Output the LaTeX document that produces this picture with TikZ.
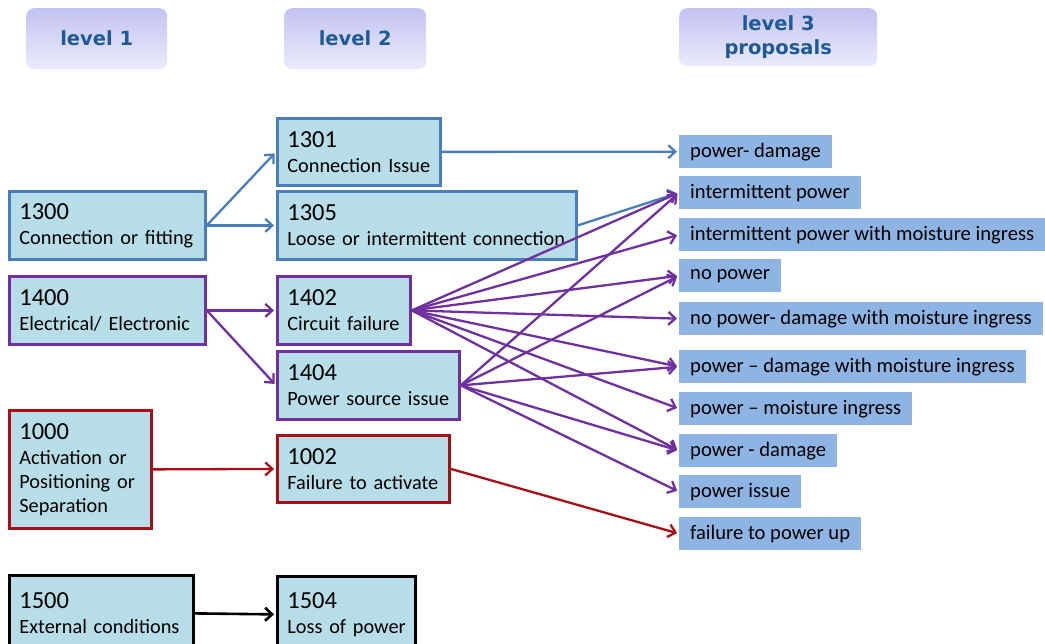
\documentclass[tikz,border=0pt]{standalone}
\usepackage{fontspec}
\setmainfont{Carlito}
\newfontfamily\headfont{DejaVu Sans}
\usetikzlibrary{positioning, arrows.meta}
\usepackage{xcolor}
\definecolor{boxfill}{HTML}{B7DEE8}
\definecolor{propfill}{HTML}{8DB4E2}
\definecolor{bluelink}{HTML}{4A7EBB}
\definecolor{purplelink}{HTML}{7030A0}
\definecolor{redlink}{HTML}{A80F14}
\definecolor{headtext}{HTML}{1F5A96}
\definecolor{headtop}{HTML}{C3C3F2}
\definecolor{headbottom}{HTML}{EBEBFB}
\newcommand{\codenum}[1]{{\fontsize{24.5}{26}\selectfont #1}}

\begin{document}
\begin{tikzpicture}[
    x=1pt, y=-1pt,
    header/.style={rectangle, rounded corners=8pt, top color=headtop, bottom color=headbottom, anchor=north west, align=center, text=headtext, font=\headfont\bfseries\fontsize{19.5}{24}\selectfont},
    codebox/.style={rectangle, draw=#1, line width=2.8pt, fill=boxfill, anchor=north west, align=left, inner xsep=10pt, inner ysep=3pt, minimum height=68pt, font=\fontsize{20.3}{24}\selectfont},
    prop/.style={rectangle, fill=propfill, anchor=north west, inner xsep=11pt, inner ysep=0pt, minimum height=33pt, font=\fontsize{20.6}{24}\selectfont},
    link/.style={draw=#1, line width=2.3pt, -{Straight Barb[length=7pt, width=13pt]}, shorten >=2pt}
]
    \useasboundingbox (0,0) rectangle (1045,644);

    % Level headers
    \node[header, minimum width=141pt, minimum height=61pt] (head1) at (26,8) {level 1};
    \node[header, minimum width=142pt, minimum height=61pt] (head2) at (284,8) {level 2};
    \node[header, minimum width=198pt, minimum height=58pt] (head3) at (679,8) {level 3\\proposals};

    % Level 1
    \node[codebox=bluelink, text width=176pt] (c1300) at (8,190) {\codenum{1300}\\[1pt]Connection or fitting};
    \node[codebox=purplelink, text width=176pt] (c1400) at (8,275) {\codenum{1400}\\[1pt]Electrical/ Electronic};
    \node[codebox=redlink, text width=122pt, minimum height=118pt] (c1000) at (8,409) {\codenum{1000}\\[1pt]Activation or\\Positioning or\\Separation};
    \node[codebox=black, text width=164pt, minimum height=76pt] (c1500) at (8,574) {\codenum{1500}\\[1pt]External conditions\\[6pt]};

    % Level 2
    \node[codebox=bluelink, text width=143pt, minimum height=67pt] (c1301) at (276,117) {\codenum{1301}\\[1pt]Connection Issue};
    \node[codebox=bluelink, text width=279pt] (c1305) at (276,190) {\codenum{1305}\\[1pt]Loose or intermittent connection};
    \node[codebox=purplelink, text width=113pt] (c1402) at (276,275) {\codenum{1402}\\[1pt]Circuit failure};
    \node[codebox=purplelink, text width=162pt] (c1404) at (276,350) {\codenum{1404}\\[1pt]Power source issue};
    \node[codebox=redlink, text width=152pt, minimum height=67pt] (c1002) at (276,434) {\codenum{1002}\\[1pt]Failure to activate};
    \node[codebox=black, text width=118pt, minimum height=76pt] (c1504) at (276,575) {\codenum{1504}\\[1pt]\mbox{Loss of power}\\[6pt]};

    % Level 3 proposals
    \node[prop] (pdamage) at (679,135) {power- damage};
    \node[prop] (pinter) at (679,176) {intermittent power};
    \node[prop] (pintermoist) at (679,218) {intermittent power with moisture ingress};
    \node[prop] (pnone) at (679,259) {no power};
    \node[prop] (pnonemoist) at (679,302) {no power- damage with moisture ingress};
    \node[prop] (pdamagemoist) at (679,350) {power – damage with moisture ingress};
    \node[prop] (pmoist) at (679,392) {power – moisture ingress};
    \node[prop] (pdamage2) at (679,434) {power - damage};
    \node[prop] (pissue) at (679,475) {power issue};
    \node[prop] (pfail) at (679,517) {failure to power up};

    % Connection links
    \draw[link=bluelink] (c1300.east) -- (c1301.west);
    \draw[link=bluelink] (c1300.east) -- (c1305.west);
    \draw[link=bluelink] (c1301.east) -- (pdamage.west);
    \draw[link=bluelink] (c1305.east) -- (pinter.west);

    % Electrical links
    \draw[link=purplelink] (c1400.east) -- (c1402.west);
    \draw[link=purplelink] (c1400.east) -- (c1404.west);
    \foreach \target in {pinter, pintermoist, pnone, pnonemoist, pdamagemoist, pmoist, pdamage2}
        \draw[link=purplelink] (c1402.east) -- (\target.west);
    \foreach \target in {pinter, pnone, pdamagemoist, pdamage2, pissue}
        \draw[link=purplelink] (c1404.east) -- (\target.west);

    % Activation links
    \draw[link=redlink] (c1000.east) -- (c1002.west);
    \draw[link=redlink] (c1002.east) -- (pfail.west);

    % External links
    \draw[link=black, line width=2.6pt] (c1500.east) -- (c1504.west);

\end{tikzpicture}
\end{document}
